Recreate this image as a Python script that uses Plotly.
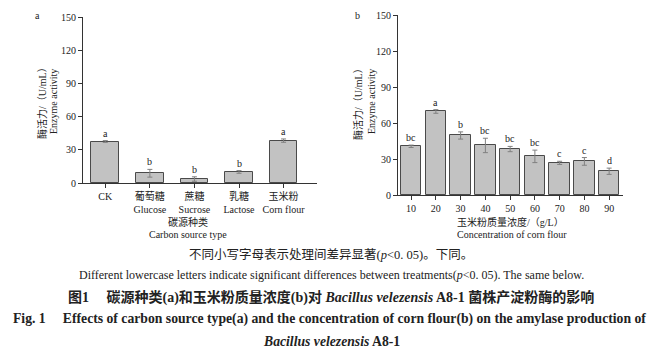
import plotly.graph_objects as go

W, H = 663, 356

# ---- Data ----
carbon_zh = ["", "葡萄糖", "蔗糖", "乳糖", "玉米粉"]
carbon_en = ["CK", "Glucose", "Sucrose", "Lactose", "Corn flour"]
carbon_vals = [37.5, 8.8, 3.6, 10.0, 38.3]
carbon_err = [0.8, 3.5, 2.0, 1.2, 1.5]
carbon_sig = ["a", "b", "b", "b", "a"]

conc = [10, 20, 30, 40, 50, 60, 70, 80, 90]
conc_vals = [40.6, 69.6, 49.6, 41.3, 38.3, 32.2, 26.8, 28.0, 19.8]
conc_err = [1.0, 1.5, 3.0, 6.0, 2.2, 5.2, 1.3, 3.2, 2.6]
conc_sig = ["bc", "a", "b", "bc", "bc", "bc", "c", "c", "d"]

y_ticks = [0, 30, 60, 90, 120, 150]

SERIF = "Liberation Serif, Times New Roman, Noto Sans CJK SC, serif"
TXT = "#222222"
BAR_FILL = "#c2c2c2"
BAR_LINE = "#4a4a4a"
ERR_COL = "#808080"
AX_COL = "#333333"


def px(x):
    return x / W


def py(y):
    return 1 - y / H


fig = go.Figure()

fig.add_trace(go.Bar(
    x=carbon_en, y=carbon_vals, width=0.62,
    marker=dict(color=BAR_FILL, line=dict(color=BAR_LINE, width=1)),
    error_y=dict(type="data", array=carbon_err, color=ERR_COL, thickness=1, width=2.5),
    xaxis="x", yaxis="y", showlegend=False,
))
fig.add_trace(go.Bar(
    x=conc, y=conc_vals, width=8.2,
    marker=dict(color=BAR_FILL, line=dict(color=BAR_LINE, width=1)),
    error_y=dict(type="data", array=conc_err, color=ERR_COL, thickness=1, width=2.5),
    xaxis="x2", yaxis="y2", showlegend=False,
))

tickfont = dict(family=SERIF, size=10, color=TXT)
yax_common = dict(range=[0, 150], tickvals=y_ticks, ticks="outside", ticklen=4,
                  tickwidth=1, tickcolor=AX_COL, showline=True, linecolor=AX_COL,
                  linewidth=1, showgrid=False, zeroline=False, tickfont=tickfont,
                  fixedrange=True, automargin=False)
xax_common = dict(ticks="outside", ticklen=4, tickwidth=1, tickcolor=AX_COL,
                  showline=True, linecolor=AX_COL, linewidth=1, showgrid=False,
                  zeroline=False, tickfont=tickfont, automargin=False)

ticktext_a = [(f"{zh}<br>{en}" if zh else en) for zh, en in zip(carbon_zh, carbon_en)]

fig.update_layout(
    width=W, height=H, margin=dict(l=0, r=0, t=0, b=0, pad=0, autoexpand=False),
    paper_bgcolor="white", plot_bgcolor="white",
    xaxis=dict(domain=[px(83), px(317)], type="category", range=[-0.5, 4.75],
               tickvals=carbon_en, ticktext=ticktext_a, anchor="y", **xax_common),
    yaxis=dict(domain=[py(183), py(17)], anchor="x", **yax_common),
    xaxis2=dict(domain=[px(398), px(623)], range=[4.7, 95.6], tickvals=conc,
                anchor="y2", **xax_common),
    yaxis2=dict(domain=[py(195), py(15)], anchor="x2", **yax_common),
    bargap=0,
)

ann = []
# significance letters
for c, v, e, s in zip(carbon_en, carbon_vals, carbon_err, carbon_sig):
    ann.append(dict(x=c, y=v + e, xref="x", yref="y", text=s, showarrow=False,
                    yanchor="bottom", yshift=0, font=dict(family=SERIF, size=10, color=TXT)))
for c, v, e, s in zip(conc, conc_vals, conc_err, conc_sig):
    ann.append(dict(x=c, y=v + e, xref="x2", yref="y2", text=s, showarrow=False,
                    yanchor="bottom", yshift=0, font=dict(family=SERIF, size=10, color=TXT)))


def text(x, y, s, size=10, angle=0, xanchor="center", yanchor="middle"):
    ann.append(dict(x=px(x), y=py(y), xref="paper", yref="paper", text=s,
                    showarrow=False, textangle=angle, xanchor=xanchor, yanchor=yanchor,
                    font=dict(family=SERIF, size=size, color=TXT)))


# panel labels
text(37, 15, "a")
text(357, 15, "b")
# y titles
text(42, 101, "酶活力/（U/mL）", angle=-90)
text(54, 102, "Enzyme activity", angle=-90)
text(358, 102, "酶活力/（U/mL）", angle=-90)
text(372, 102, "Enzyme activity", angle=-90)
# x titles
text(188, 222, "碳源种类")
text(188, 234, "Carbon source type")
text(510, 222, "玉米粉质量浓度/（g/L）")
text(512, 234, "Concentration of corn flour")
# captions
text(331, 254, "不同小写字母表示处理间差异显著(<i>p</i>&lt;0. 05)。下同。", size=12.5)
text(331, 275, "Different lowercase letters indicate significant differences between treatments(<i>p</i>&lt;0. 05). The same below.", size=12)
text(331, 297, "<b>图1　 碳源种类(a)和玉米粉质量浓度(b)对 <i>Bacillus velezensis</i> A8-1 菌株产淀粉酶的影响</b>", size=14)
text(329, 319, "<b>Fig. 1　 Effects of carbon source type(a) and the concentration of corn flour(b) on the amylase production of</b>", size=13.7)
text(331, 341, "<b><i>Bacillus velezensis</i> A8-1</b>", size=13.7)

fig.update_layout(annotations=ann)

fig.write_html("out.html", config={"displayModeBar": False},
               post_script="document.body.style.margin='0px';")
